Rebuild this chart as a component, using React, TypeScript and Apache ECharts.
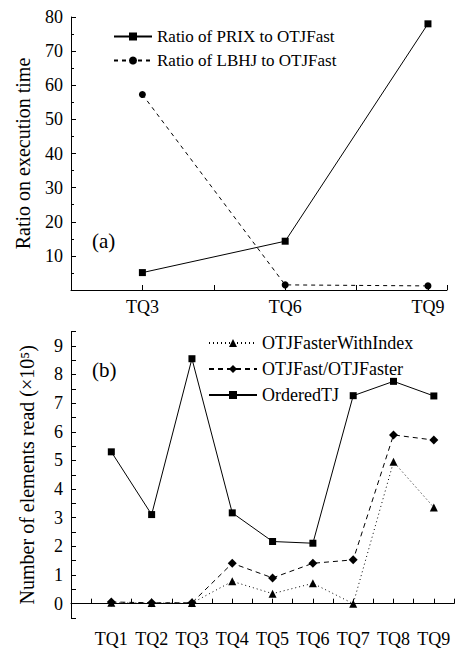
import React, { useEffect, useRef } from 'react';
import * as echarts from 'echarts';

const queriesA = ['TQ3', 'TQ6', 'TQ9'];
const prixRatio = [5.1, 14.3, 78.0];
const lbhjRatio = [57.3, 1.5, 1.2];

const queriesB = ['TQ1', 'TQ2', 'TQ3', 'TQ4', 'TQ5', 'TQ6', 'TQ7', 'TQ8', 'TQ9'];
const fasterWithIndex = [0.03, 0.02, 0.02, 0.78, 0.35, 0.71, 0.0, 4.95, 3.36];
const fastFaster = [0.06, 0.03, 0.03, 1.41, 0.9, 1.41, 1.53, 5.89, 5.71];
const orderedTJ = [5.3, 3.11, 8.55, 3.17, 2.17, 2.11, 7.26, 7.76, 7.25];

const FONT = "'Liberation Serif', 'Times New Roman', serif";
const qNum = (q: string) => Number(q.slice(2));
const isInt = (v: number) => Math.abs(v - Math.round(v)) < 1e-6;

export default function App() {
  const ref = useRef<HTMLDivElement>(null);
  useEffect(() => {
    if (!ref.current) return;
    const chart = echarts.init(ref.current, null, { renderer: 'svg' });
    const axisCommon = {
      axisLine: { show: true, lineStyle: { color: '#000', width: 1 } },
      axisTick: { show: true, inside: true, length: 5, lineStyle: { color: '#000' } },
      splitLine: { show: false },
      axisLabel: { color: '#000', fontSize: 18, fontFamily: FONT },
      nameTextStyle: { color: '#000', fontSize: 20, fontFamily: FONT },
    };
    const pair = (qs: string[], vals: number[]) => qs.map((q, i) => [qNum(q), vals[i]]);
    chart.setOption({
      animation: false,
      textStyle: { fontFamily: FONT, color: '#000' },
      grid: [
        { left: 71, right: 10, top: 17, bottom: 358 },
        { left: 71, right: 1, top: 331.5, bottom: 26.5 },
      ],
      xAxis: [
        {
          ...axisCommon,
          type: 'value', gridIndex: 0, min: 1.5, max: 9.4, interval: 1.5,
          axisLabel: {
            ...axisCommon.axisLabel, margin: 8,
            formatter: (v: number) => (isInt(v) && v % 3 === 0 ? 'TQ' + Math.round(v) : ''),
          },
        },
        {
          ...axisCommon,
          type: 'value', gridIndex: 1, min: 0, max: 9.5, interval: 0.5,
          axisLabel: {
            ...axisCommon.axisLabel, margin: 12,
            formatter: (v: number) => (isInt(v) && v >= 1 && v <= 9 ? 'TQ' + Math.round(v) : ''),
          },
        },
      ],
      yAxis: [
        {
          ...axisCommon,
          type: 'value', gridIndex: 0, min: 0, max: 80, interval: 10,
          minorTick: { show: true, splitNumber: 2, length: 3, lineStyle: { color: '#000' } },
          axisLabel: { ...axisCommon.axisLabel, formatter: (v: number) => (v === 0 ? '' : String(v)) },
          name: 'Ratio on execution time', nameLocation: 'middle', nameGap: 38, nameRotate: 90,
        },
        {
          ...axisCommon,
          type: 'value', gridIndex: 1, min: -0.5, max: 9.5, interval: 0.5,
          axisLabel: { ...axisCommon.axisLabel, formatter: (v: number) => (isInt(v) && v >= 0 ? String(Math.round(v)) : '') },
          name: 'Number of elements read (×10⁵)', nameLocation: 'middle', nameGap: 34, nameRotate: 90,
        },
      ],
      legend: [
        {
          orient: 'vertical', left: 108, top: 23, itemWidth: 38, itemHeight: 10, itemGap: 7,
          textStyle: { fontSize: 17, fontFamily: FONT, color: '#000' },
          data: ['Ratio of PRIX to OTJFast', 'Ratio of LBHJ to OTJFast'],
        },
        {
          orient: 'vertical', left: 203, top: 329, itemWidth: 48, itemHeight: 10, itemGap: 8,
          textStyle: { fontSize: 18, fontFamily: FONT, color: '#000' },
          data: ['OTJFasterWithIndex', 'OTJFast/OTJFaster', 'OrderedTJ'],
        },
      ],
      graphic: [
        { type: 'text', left: 92, top: 230, style: { text: '(a)', fontSize: 21, fontFamily: FONT, fill: '#000' } },
        { type: 'text', left: 92, top: 359, style: { text: '(b)', fontSize: 21, fontFamily: FONT, fill: '#000' } },
      ],
      series: [
        {
          name: 'Ratio of PRIX to OTJFast', type: 'line', xAxisIndex: 0, yAxisIndex: 0,
          data: pair(queriesA, prixRatio), symbol: 'rect', symbolSize: 7,
          lineStyle: { color: '#000', width: 1, type: 'solid' }, itemStyle: { color: '#000' },
        },
        {
          name: 'Ratio of LBHJ to OTJFast', type: 'line', xAxisIndex: 0, yAxisIndex: 0,
          data: pair(queriesA, lbhjRatio), symbol: 'circle', symbolSize: 7,
          lineStyle: { color: '#000', width: 1, type: [4, 4] }, itemStyle: { color: '#000' },
        },
        {
          name: 'OTJFasterWithIndex', type: 'line', xAxisIndex: 1, yAxisIndex: 1,
          data: pair(queriesB, fasterWithIndex), symbol: 'triangle', symbolSize: 8,
          lineStyle: { color: '#000', width: 1, type: [1, 3] }, itemStyle: { color: '#000' },
        },
        {
          name: 'OTJFast/OTJFaster', type: 'line', xAxisIndex: 1, yAxisIndex: 1,
          data: pair(queriesB, fastFaster), symbol: 'diamond', symbolSize: 9,
          lineStyle: { color: '#000', width: 1, type: [5, 4] }, itemStyle: { color: '#000' },
        },
        {
          name: 'OrderedTJ', type: 'line', xAxisIndex: 1, yAxisIndex: 1,
          data: pair(queriesB, orderedTJ), symbol: 'rect', symbolSize: 7,
          lineStyle: { color: '#000', width: 1, type: 'solid' }, itemStyle: { color: '#000' },
        },
      ],
    });
    return () => chart.dispose();
  }, []);
  return <div ref={ref} style={{ width: 457, height: 648, position: 'absolute', left: 0, top: 0, background: '#fff' }} />;
}
